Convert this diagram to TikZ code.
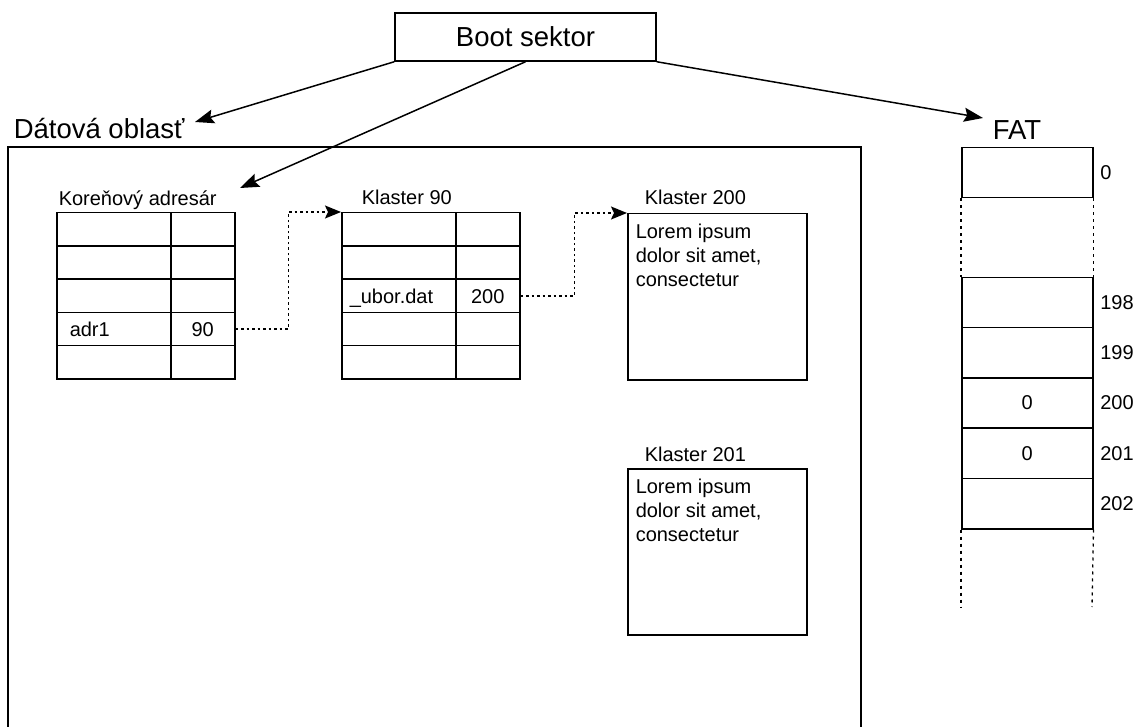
\documentclass[tikz,border=0pt]{standalone}
\usepackage{fontspec}
\setmainfont{Liberation Sans}
\usetikzlibrary{arrows.meta}
\begin{document}
\begin{tikzpicture}[x=1pt,y=-1pt,
  line width=1.5pt,
  big/.style={font=\fontsize{27.5}{32}\selectfont},
  small/.style={font=\fontsize{20}{24}\selectfont},
  cellbox/.style={draw, inner sep=0pt, minimum height=33.2pt, anchor=north west},
  widecell/.style={cellbox, minimum width=114pt},
  narrowcell/.style={cellbox, minimum width=64pt},
  fatcell/.style={draw, inner sep=0pt, minimum width=131pt, minimum height=50.3pt, anchor=north west, small},
  cluster/.style={draw, inner sep=0pt, minimum width=179pt, minimum height=166pt, anchor=north west},
  lbl/.style={small, anchor=base west, inner sep=0pt},
  celltext/.style={small, inner sep=0pt},
  ptr/.style={-{Stealth[length=19pt,width=14pt,inset=3pt]}},
  link/.style={dash pattern=on 2.5pt off 3pt, -{Stealth[length=16pt,width=13pt,inset=3pt]}},
  gap/.style={line width=1.3pt, dash pattern=on 3pt off 4pt}
]
\useasboundingbox (0,0) rectangle (1137,727);

% boot sector
\node[draw, big, minimum width=261pt, minimum height=48pt, inner sep=0pt] (boot) at (525.5,37) {Boot sektor};

% data area and its caption
\node[big, anchor=base west, inner sep=0pt] (datalabel) at (13,139) {Dátová oblasť};
\draw (8,727) -- (8,147) -- (861,147) -- (861,727);

% FAT caption
\node[big, anchor=base, inner sep=0pt] (fatlabel) at (1017,140) {FAT};

% arrow end points
\coordinate (tipdata) at (195,122);
\coordinate (tiproot) at (240,188);
\coordinate (tipfat) at (983,118);
\draw[ptr] (boot.south west) -- (tipdata);
\draw[ptr] (boot.south) -- (tiproot);
\draw[ptr] (boot.south east) -- (tipfat);

% root directory table
\node[lbl] (rootlabel) at (58,206) {Koreňový adresár};
\foreach \i in {1,...,5} {
  \node[widecell] (ra\i) at (56,{212+33.2*(\i-1)}) {};
  \node[narrowcell] (rb\i) at (170,{212+33.2*(\i-1)}) {};
}
\node[celltext, anchor=base west] (adrname) at ([xshift=13pt,yshift=-8pt]ra4.west) {adr1};
\node[celltext, anchor=base] (adrclus) at ([yshift=-8pt]rb4.center) {90};

% cluster 90 table
\node[lbl] (k90label) at (361,205) {Klaster 90};
\foreach \i in {1,...,5} {
  \node[widecell] (ka\i) at (341,{212+33.2*(\i-1)}) {};
  \node[narrowcell] (kb\i) at (455,{212+33.2*(\i-1)}) {};
}
\node[celltext, anchor=base west] (filename) at ([xshift=8pt,yshift=-8pt]ka3.west) {\_ubor.dat};
\node[celltext, anchor=base] (fileclus) at ([yshift=-8pt]kb3.center) {200};

% data clusters
\node[lbl] (k200label) at (644,205) {Klaster 200};
\node[cluster] (k200) at (627,213) {};
\node[small, anchor=north west, align=left, inner sep=0pt] (k200text) at ([xshift=8pt,yshift=-10pt]k200.north west) {Lorem ipsum\\dolor sit amet,\\consectetur};

\node[lbl] (k201label) at (644,461) {Klaster 201};
\node[cluster] (k201) at (627,468) {};
\node[small, anchor=north west, align=left, inner sep=0pt] (k201text) at ([xshift=8pt,yshift=-10pt]k201.north west) {Lorem ipsum\\dolor sit amet,\\consectetur};

% chain links
\draw[link] (rb4.east) -- ++(53,0) |- (ka1.north west);
\draw[link] (kb3.east) -- ++(54,0) |- (k200.north west);

% FAT entries
\node[fatcell, minimum height=50pt] (f0) at (961,147) {};
\node[fatcell] (f198) at (961,276.5) {};
\node[fatcell] (f199) at (961,326.8) {};
\node[fatcell] (f200) at (961,377.1) {0};
\node[fatcell] (f201) at (961,427.4) {0};
\node[fatcell] (f202) at (961,477.7) {};
\foreach \n in {0,198,199,200,201,202} {
  \node[small, anchor=west, inner sep=0pt] (fl\n) at ([xshift=6pt]f\n.east) {\n};
}
\coordinate (fendl) at (961,607);
\coordinate (fendr) at (1092,607);
\draw[gap] (f0.south west) -- (f198.north west);
\draw[gap] (f0.south east) -- (f198.north east);
\draw[gap] (f202.south west) -- (fendl);
\draw[gap] (f202.south east) -- (fendr);
\end{tikzpicture}
\end{document}
